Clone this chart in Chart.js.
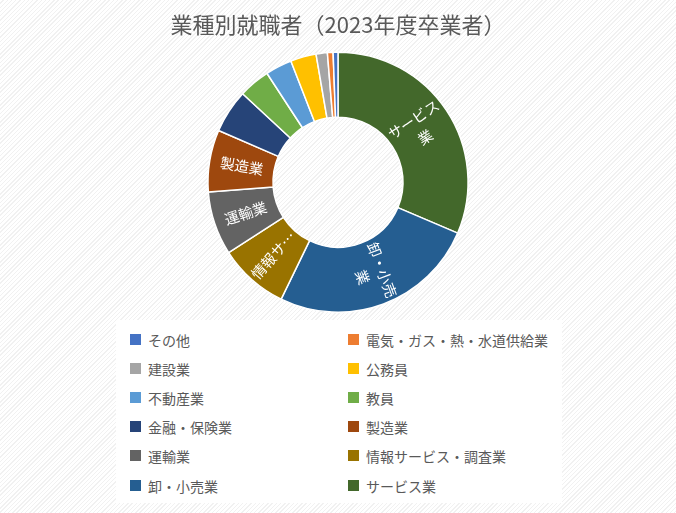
<!DOCTYPE html>
<html lang="ja">
<head>
<meta charset="utf-8">
<script src="https://cdn.jsdelivr.net/npm/chart.js@4.4.1/dist/chart.umd.min.js"></script>
<style>
  html, body { margin: 0; padding: 0; }
  body {
    width: 676px; height: 513px; overflow: hidden; position: relative;
    background: repeating-linear-gradient(135deg, #ffffff 0 2px, #f1f1f1 2px 3px);
    font-family: "Noto Sans CJK JP", sans-serif;
  }
  #chart { position: absolute; left: 0; top: 0; }
  #legend { position: absolute; left: 116px; top: 320px; width: 446px; height: 183px; background: #fff; }
  .item { position: absolute; height: 18px; font-size: 14px; line-height: 18px; color: #595959; white-space: nowrap; }
  .item i { position: absolute; left: 0; top: 3px; width: 11px; height: 11px; }
  .item span { position: absolute; left: 18px; top: 0; }
</style>
</head>
<body>
<canvas id="chart" width="676" height="513"></canvas>
<div id="legend"></div>
<script>
// 凡例の並び順（割合の小さい順）
const categories = ['その他', '電気・ガス・熱・水道供給業', '建設業', '公務員', '不動産業', '教員',
                    '金融・保険業', '製造業', '運輸業', '情報サービス・調査業', '卸・小売業', 'サービス業'];
const shares     = [0.6, 0.7, 1.4, 3.2, 3.3, 3.9, 5.4, 7.7, 7.9, 8.7, 25.8, 31.4];
const colors     = ['#4472C4', '#ED7D31', '#A5A5A5', '#FFC000', '#5B9BD5', '#70AD47',
                    '#264478', '#9E480E', '#636363', '#997300', '#255E91', '#43682B'];

const TITLE = '業種別就職者（2023年度卒業者）';
const LABEL_FS = 14.5;
const LINE_H = 21;
const FONT = '"Noto Sans CJK JP", sans-serif';

// 円グラフは大きい順に12時から時計回り
const pieLabels = categories.slice().reverse();
const pieValues = shares.slice().reverse();
const pieColors = colors.slice().reverse();

function wrapLabel(ctx, text, maxW, maxLines) {
  const lines = [];
  let cur = '';
  for (const ch of text) {
    if (cur && ctx.measureText(cur + ch).width > maxW) { lines.push(cur); cur = ch; }
    else cur += ch;
  }
  if (cur) lines.push(cur);
  if (lines.length <= maxLines) return lines;
  const out = lines.slice(0, maxLines);
  let last = out[maxLines - 1];
  while (last && ctx.measureText(last + '…').width > maxW) last = last.slice(0, -1);
  out[maxLines - 1] = last + '…';
  return out;
}

const sliceLabels = {
  id: 'sliceLabels',
  afterDatasetsDraw(chart) {
    const { ctx } = chart;
    const meta = chart.getDatasetMeta(0);
    ctx.font = `${LABEL_FS}px ${FONT}`;
    meta.data.forEach((arc, i) => {
      const { x, y, startAngle, endAngle, innerRadius, outerRadius } =
        arc.getProps(['x', 'y', 'startAngle', 'endAngle', 'innerRadius', 'outerRadius'], true);
      const sweep = endAngle - startAngle;
      if (sweep * 180 / Math.PI < 25) return;
      const mid = (startAngle + endAngle) / 2;
      const r = (innerRadius + outerRadius) / 2;
      const maxW = outerRadius - innerRadius - 4;
      const maxLines = sweep * r > 100 ? 2 : 1;
      const lines = wrapLabel(ctx, chart.data.labels[i], maxW, maxLines);
      let rot = mid;
      if (Math.cos(mid) < 0) rot += Math.PI;
      ctx.save();
      ctx.translate(x + Math.cos(mid) * r, y + Math.sin(mid) * r);
      ctx.rotate(rot);
      ctx.font = `${LABEL_FS}px ${FONT}`;
      ctx.fillStyle = '#ffffff';
      ctx.textAlign = 'center';
      ctx.textBaseline = 'middle';
      lines.forEach((ln, k) => ctx.fillText(ln, 0, (k - (lines.length - 1) / 2) * LINE_H));
      ctx.restore();
    });
  },
};

new Chart(document.getElementById('chart'), {
  type: 'doughnut',
  data: {
    labels: pieLabels,
    datasets: [{
      data: pieValues,
      backgroundColor: pieColors,
      borderColor: '#ffffff',
      borderWidth: 1.5,
    }],
  },
  options: {
    responsive: false,
    animation: false,
    cutout: '50%',
    layout: { padding: { top: 0, right: 0, bottom: 200, left: 0 } },
    plugins: {
      legend: { display: false },
      tooltip: { enabled: false },
      title: {
        display: true,
        text: TITLE,
        color: '#595959',
        font: { family: FONT, size: 22, weight: 'normal' },
        padding: { top: 11, bottom: 14 },
      },
    },
  },
  plugins: [sliceLabels],
});

// 凡例（2列、行ごとに左→右）
const legend = document.getElementById('legend');
categories.forEach((name, i) => {
  const el = document.createElement('div');
  el.className = 'item';
  el.style.left = (i % 2 === 0 ? 14 : 232) + 'px';
  el.style.top = (21 + Math.floor(i / 2) * 29.1 - 10) + 'px';
  el.innerHTML = `<i style="background:${colors[i]}"></i><span>${name}</span>`;
  legend.appendChild(el);
});
</script>
</body>
</html>
